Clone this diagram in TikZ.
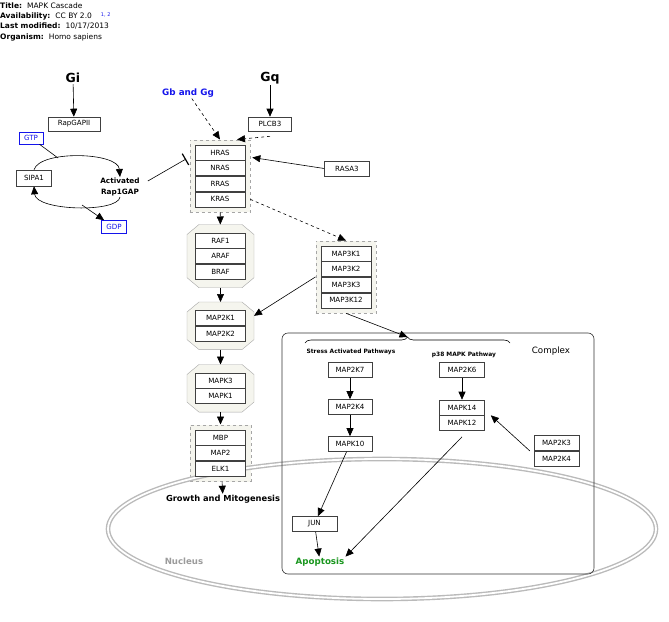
\documentclass[tikz,border=0pt]{standalone}
\usepackage{fontspec}
\setmainfont{DejaVu Sans}
\usetikzlibrary{arrows.meta, positioning, fit, backgrounds, decorations.pathreplacing}

\definecolor{linkblue}{RGB}{20,20,235}
\definecolor{apogreen}{RGB}{25,150,30}
\definecolor{groupfill}{RGB}{245,245,238}
\definecolor{nucgray}{RGB}{155,155,155}

% octagonal group outline round a fitted node
\newcommand{\octgroup}[1]{%
  \filldraw[fill=groupfill, draw=black!35] ([xshift=12pt]#1.north west) -- ([xshift=-12pt]#1.north east)
    -- ([yshift=-10pt]#1.north east) -- ([yshift=10pt]#1.south east) -- ([xshift=-12pt]#1.south east)
    -- ([xshift=12pt]#1.south west) -- ([yshift=10pt]#1.south west) -- ([yshift=-10pt]#1.north west) -- cycle;}

\begin{document}
\begin{tikzpicture}[x=1pt, y=-1pt, every node/.style={font=\fontsize{7.1}{8}\selectfont},
    gene/.style={draw=black!75, fill=white, line width=0.6pt, minimum width=50pt, minimum height=15pt, inner sep=0pt},
    small/.style={gene, draw=linkblue, text=linkblue, minimum width=24pt, minimum height=12pt},
    hdr/.style={anchor=west, inner sep=0pt, font=\fontsize{7.5}{8}\selectfont},
    big/.style={font=\fontsize{12.5}{14}\selectfont\bfseries, inner sep=1pt},
    lbl/.style={font=\fontsize{7.3}{10.5}\selectfont\bfseries, inner sep=1pt},
    arr/.style={-{Triangle[length=8pt, width=7pt]}, line width=0.6pt},
    darr/.style={arr, dashed},
    inh/.style={-{Bar[width=13pt, line width=1.2pt]}, line width=0.6pt},
    grp/.style={draw=black!35, dashed, fill=groupfill, inner sep=5pt},
    oct/.style={inner xsep=8pt, inner ysep=8pt},
    nucleus/.style={draw=black!27, double=white, line width=1.4pt, double distance=1.8pt}]

  \useasboundingbox (0,0) rectangle (669,621);

  % header
  \node[hdr] (title) at (0,6) {\textbf{Title:}\hspace{5pt}MAPK Cascade};
  \node[hdr] (avail) at (0,16) {\textbf{Availability:}\hspace{5pt}CC BY 2.0\hspace{9pt}\raisebox{2pt}{\color{linkblue}\fontsize{5}{5}\selectfont 1, 2}};
  \node[hdr] (modified) at (0,26) {\textbf{Last modified:}\hspace{5pt}10/17/2013};
  \node[hdr] (organism) at (0,37) {\textbf{Organism:}\hspace{5pt}Homo sapiens};

  % Rap1GAP cycle
  \node[big] (gi) at (73,78) {Gi};
  \node[gene, minimum width=52pt, minimum height=14pt] (rapgap) at (74,124) {RapGAPII};
  \node[small] (gtp) at (31,138) {GTP};
  \node[gene, minimum width=35pt, minimum height=16pt] (sipa) at (34,178) {SIPA1};
  \node[lbl, align=center] (rap1gap) at (120,187) {Activated\\Rap1GAP};
  \node[small, minimum width=25pt, minimum height=13pt] (gdp) at (114,227) {GDP};
  \coordinate (gtpjoin) at (58,158);
  \coordinate (gdpjoin) at (82,205);
  \coordinate (rasbar) at (186,159);

  % upstream
  \node[lbl, text=linkblue, font=\fontsize{8.8}{10}\selectfont\bfseries] (gbgg) at (188,93) {Gb and Gg};
  \node[big] (gq) at (270,78) {Gq};
  \node[gene, minimum width=43pt, minimum height=14pt] (plcb) at (270,124) {PLCB3};
  \node[gene, minimum width=45pt] (rasa) at (347,168.5) {RASA3};

  % main cascade
  \node[gene] (ras1) at (220,152.5) {HRAS};
  \node[gene, below=0pt of ras1] (ras2) {NRAS};
  \node[gene, below=0pt of ras2] (ras3) {RRAS};
  \node[gene, below=0pt of ras3] (ras4) {KRAS};

  \node[gene] (raf1) at (220.5,240.5) {RAF1};
  \node[gene, below=0pt of raf1] (raf2) {ARAF};
  \node[gene, below=0pt of raf2] (raf3) {BRAF};

  \node[gene] (mek1) at (220.5,318) {MAP2K1};
  \node[gene, below=0pt of mek1] (mek2) {MAP2K2};

  \node[gene] (erk1) at (220.5,380.5) {MAPK3};
  \node[gene, below=0pt of erk1] (erk2) {MAPK1};

  \node[gene] (mbp) at (220.5,437.5) {MBP};
  \node[gene, below=0pt of mbp] (map2) {MAP2};
  \node[gene, below=0pt of map2] (elk1) {ELK1};
  \node[lbl, font=\fontsize{8.3}{9}\selectfont\bfseries] (growth) at (223,499) {Growth and Mitogenesis};

  \node[gene] (mkkk1) at (346,253.5) {MAP3K1};
  \node[gene, below=0pt of mkkk1] (mkkk2) {MAP3K2};
  \node[gene, below=0pt of mkkk2] (mkkk3) {MAP3K3};
  \node[gene, below=0pt of mkkk3] (mkkk12) {MAP3K12};

  % complex
  \node[draw=black!80, rounded corners=6pt, line width=0.6pt, minimum width=312pt, minimum height=241pt] (complex) at (438,453.5) {};
  \node[font=\fontsize{8.7}{10}\selectfont] (complexlbl) at (551,351) {Complex};
  \draw[decorate, decoration={brace, amplitude=6pt}, line width=0.6pt] (305,343) -- (510,343);
  \coordinate (brtip) at (407.5,337);
  \node[lbl, font=\fontsize{5.9}{6}\selectfont\bfseries] (stress) at (351,352) {Stress Activated Pathways};
  \node[lbl, font=\fontsize{5.9}{6}\selectfont\bfseries] (p38) at (464,355) {p38 MAPK Pathway};

  \node[gene, minimum width=44pt] (mkk7) at (350,370) {MAP2K7};
  \node[gene, minimum width=44pt] (mkk4) at (350,407) {MAP2K4};
  \node[gene, minimum width=44pt] (jnk3) at (350,444) {MAPK10};
  \node[gene, minimum width=45pt] (jun) at (314.5,524) {JUN};
  \node[lbl, text=apogreen, font=\fontsize{8.7}{10}\selectfont\bfseries] (apoptosis) at (320,562) {Apoptosis};

  \node[gene, minimum width=45pt] (mkk6) at (462,370) {MAP2K6};
  \node[gene, minimum width=45pt] (p38a) at (462,407.5) {MAPK14};
  \node[gene, minimum width=45pt, below=0pt of p38a] (p38g) {MAPK12};
  \node[gene, minimum width=45pt] (mkk3) at (556.5,443) {MAP2K3};
  \node[gene, minimum width=45pt, below=0pt of mkk3] (mkk4b) {MAP2K4};

  \node[lbl, text=nucgray, font=\fontsize{8.6}{10}\selectfont\bfseries] (nuclbl) at (184,561) {Nucleus};

  \begin{pgfonlayer}{background}
    \node[grp, fit=(ras1)(ras4)] (rasgroup) {};
    \node[oct, fit=(raf1)(raf3)] (rafgroup) {};
    \node[oct, fit=(mek1)(mek2)] (mekgroup) {};
    \node[oct, fit=(erk1)(erk2)] (erkgroup) {};
    \octgroup{rafgroup} \octgroup{mekgroup} \octgroup{erkgroup}
    \node[grp, fit=(mbp)(elk1)] (mbpgroup) {};
    \node[grp, fit=(mkkk1)(mkkk12)] (mkkkgroup) {};
    \draw[nucleus] (382,529) ellipse [x radius=274pt, y radius=70pt];
  \end{pgfonlayer}

  % connectors
  \draw[arr] (gi) -- (rapgap);
  \draw[arr] (gq) -- (plcb);
  \draw[arr] (sipa.north) .. controls (40,150) and (118,152) .. (rap1gap.north);
  \draw[arr] (rap1gap.south) .. controls (118,213) and (36,211) .. (sipa.south);
  \draw[line width=0.6pt] (gtp) -- (gtpjoin);
  \draw[arr] (gdpjoin) -- (gdp);
  \draw[inh] (rap1gap.east) ++(7,-6) -- (rasbar);
  \draw[darr] (gbgg) -- (rasgroup.north);
  \draw[darr] ([yshift=-5pt]plcb.south) -- ([xshift=17pt]rasgroup.north);
  \draw[arr] (rasa.west) -- ([shift={(7pt,-5pt)}]ras1.east);
  \draw[arr] (rasgroup) -- (rafgroup);
  \draw[arr] (rafgroup) -- (mekgroup);
  \draw[arr] (mekgroup) -- (erkgroup);
  \draw[arr] (erkgroup) -- (mbpgroup);
  \draw[arr] (mbpgroup) -- (growth);
  \draw[darr] ([xshift=5pt]ras4.east) -- (mkkkgroup.north);
  \draw[arr] (mkkkgroup.west) -- ([yshift=10pt]mekgroup.east);
  \draw[arr] (mkkkgroup.south) -- (brtip);
  \draw[arr] (mkk7) -- (mkk4);
  \draw[arr] (mkk4) -- (jnk3);
  \draw[arr] (jnk3) -- (jun);
  \draw[arr] (jun) -- (apoptosis);
  \draw[arr] (mkk6) -- (p38a);
  \draw[arr] ([xshift=-4pt]mkk3.south west) -- ([xshift=6pt]p38a.south east);
  \draw[arr] ([yshift=-6pt]p38g.south) -- (apoptosis.north east);
\end{tikzpicture}
\end{document}
